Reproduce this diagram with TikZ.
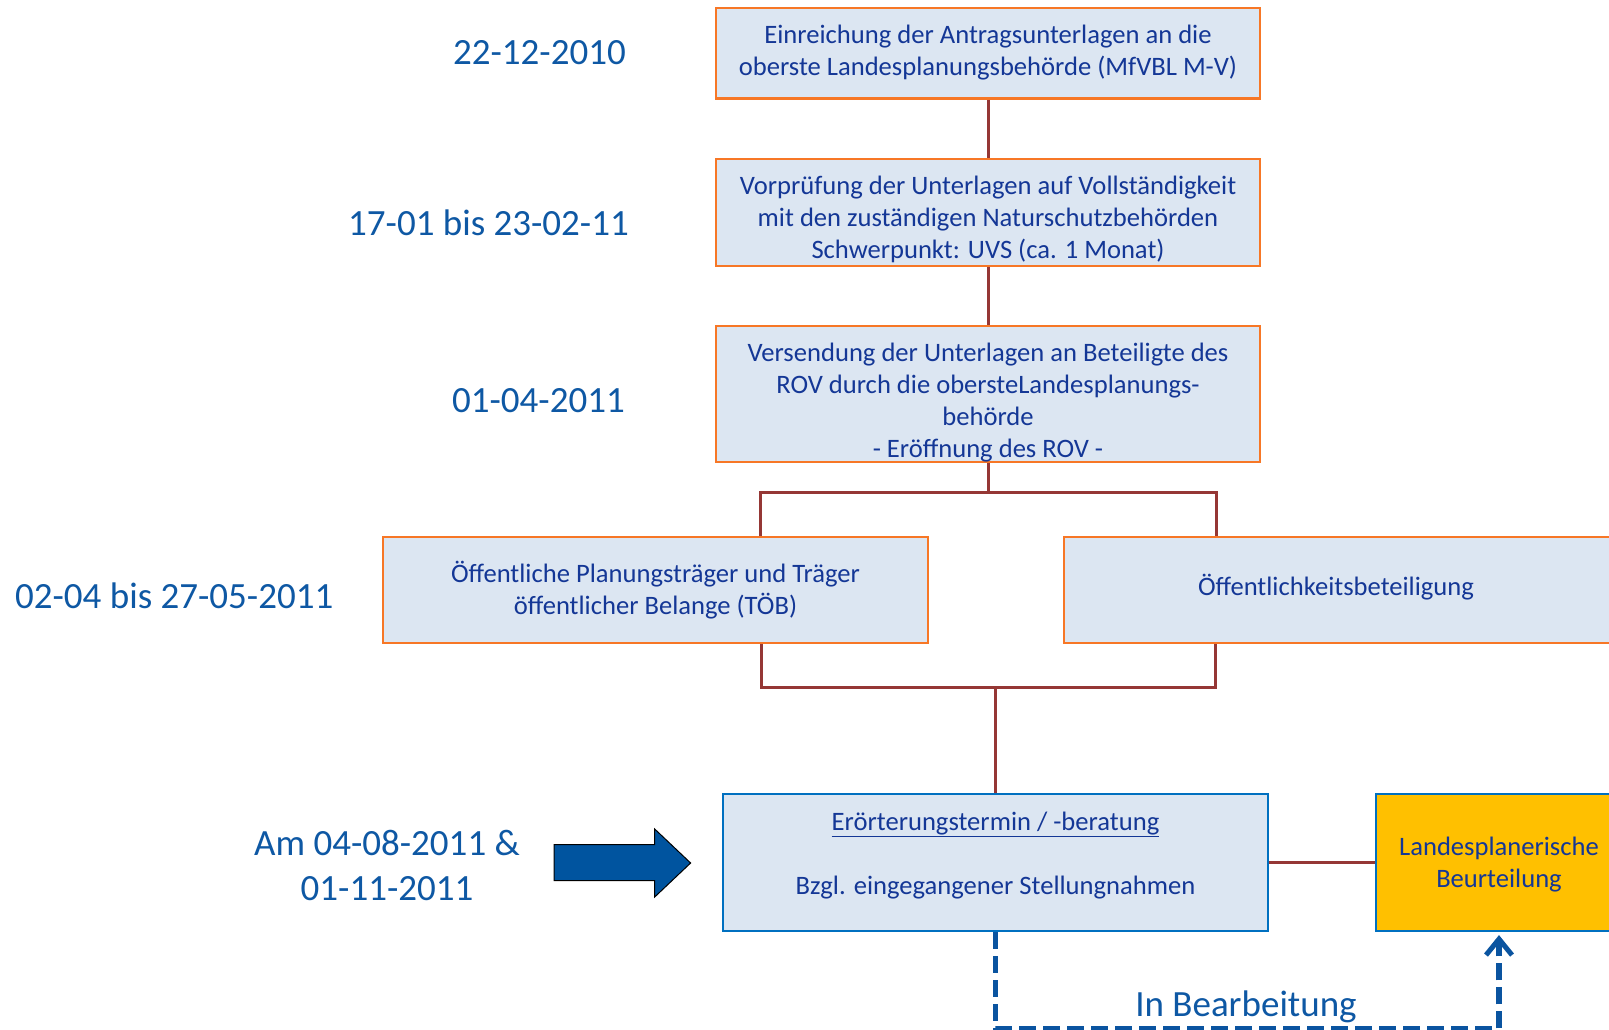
\documentclass[tikz,border=0pt]{standalone}
\usepackage{fontspec}
\setmainfont{Carlito}
\usetikzlibrary{arrows.meta}
\definecolor{boxfill}{RGB}{220,230,242}
\definecolor{boxorange}{RGB}{247,119,38}
\definecolor{boxtext}{RGB}{20,55,150}
\definecolor{datetext}{RGB}{14,88,164}
\definecolor{linkred}{RGB}{149,55,53}
\definecolor{borderblue}{RGB}{0,112,192}
\definecolor{dashblue}{RGB}{10,84,160}
\definecolor{arrowblue}{RGB}{0,84,159}
\definecolor{goldfill}{RGB}{255,192,0}
\begin{document}
\begin{tikzpicture}[x=1pt,y=-1pt,
  stepbox/.style={draw=boxorange, line width=2.8pt, fill=boxfill, inner sep=0pt},
  bluebox/.style={stepbox, draw=borderblue, line width=2.2pt},
  boxlabel/.style={text=boxtext, align=center, font=\fontsize{26.6}{31.9}\selectfont, inner sep=0pt},
  datelabel/.style={text=datetext, font=\fontsize{37}{45}\selectfont, inner sep=0pt, align=center},
  link/.style={draw=linkred, line width=3pt},
  dashlink/.style={draw=dashblue, line width=5.5pt, dash pattern=on 17pt off 7pt,
    -{Straight Barb[length=16pt,width=26pt,line width=5pt]}},
  bigarrow/.style={fill=arrowblue, draw=black, line width=1pt, line join=miter}]
\clip (0,0) rectangle (1609,1030);
\fill[white] (0,0) rectangle (1609,1030);

% boxes
\node[stepbox, minimum width=544pt, minimum height=90.5pt] (b1) at (988,53.3) {};
\node[stepbox, minimum width=544pt, minimum height=107pt] (b2) at (988,212.5) {};
\node[stepbox, minimum width=544pt, minimum height=136pt] (b3) at (988,394) {};
\node[stepbox, minimum width=545pt, minimum height=106pt] (b4) at (655.5,590) {};
\node[stepbox, minimum width=552pt, minimum height=106pt] (b5) at (1340,590) {};
\node[bluebox, minimum width=545pt, minimum height=137pt] (b6) at (995.5,862.5) {};
\node[bluebox, fill=goldfill, minimum width=246pt, minimum height=137pt] (b7) at (1499,862.5) {};

% box texts
\node[boxlabel] (b1t) at ([yshift=1pt]b1.center)
  {Einreichung der Antragsunterlagen an die\\oberste Landesplanungsbehörde (MfVBL M-V)};
\node[boxlabel] (b2t) at ([yshift=-7.2pt]b2.center)
  {Vorprüfung der Unterlagen auf Vollständigkeit\\mit den zuständigen Naturschutzbehörden\\Schwerpunkt: UVS (ca. 1 Monat)};
\node[boxlabel] (b3t) at ([yshift=-8.2pt]b3.center)
  {Versendung der Unterlagen an Beteiligte des\\ROV durch die obersteLandesplanungs-\\behörde\\- Eröffnung des ROV -};
\node[boxlabel] (b4t) at (b4.center)
  {Öffentliche Planungsträger und Träger\\öffentlicher Belange (TÖB)};
\node[boxlabel] (b5t) at ([xshift=-4pt,yshift=3pt]b5.center)
  {Öffentlichkeitsbeteiligung};
\node[boxlabel] (b6t) at ([yshift=7.2pt]b6.center)
  {\underline{Erörterungstermin / -beratung}\\[31.9pt]Bzgl. eingegangener Stellungnahmen};
\node[boxlabel] (b7t) at ([yshift=-2pt]b7.center)
  {Landesplanerische\\Beurteilung};

% dates
\node[datelabel, anchor=east] (d1) at (626,52.3) {22-12-2010};
\node[datelabel, anchor=east] (d2) at (629,222.7) {17-01 bis 23-02-11};
\node[datelabel, anchor=east] (d3) at (625,400.2) {01-04-2011};
\node[datelabel, anchor=east] (d4) at (333.5,596.2) {02-04 bis 27-05-2011};
\node[datelabel] (d5) at (387,865) {Am 04-08-2011 \&\\01-11-2011};
\node[datelabel] (inb) at (1246,1007) {In Bearbeitung};

% big arrow
\draw[bigarrow] (554,844.5) -- (654.7,844.5) -- (654.7,829) -- (690.6,863)
  -- (654.7,897) -- (654.7,880.5) -- (554,880.5) -- cycle;

% connectors
\draw[link] (b1) -- (b2);
\draw[link] (b2) -- (b3);
\coordinate (t4) at (760,492.6);
\coordinate (t5) at (1216,492.6);
\draw[link] (b3.south) -- (b3.south |- t4);
\draw[link] (t4 |- b4.north) -- (t4) -- (t5) -- (t5 |- b5.north);
\coordinate (u4) at (761,687.6);
\coordinate (u5) at (1215,687.6);
\draw[link] (u4 |- b4.south) -- (u4) -- (u5) -- (u5 |- b5.south);
\draw[link] (b6.north) -- (b6.north |- u4);
\draw[link] (b6.east) -- (b7.west);

% dashed feedback
\coordinate (dl) at (996.5,1028.5);
\draw[dashlink, shorten >=3pt] (b6.south) -- (b6.south |- dl) -| (b7.south);
\end{tikzpicture}
\end{document}
